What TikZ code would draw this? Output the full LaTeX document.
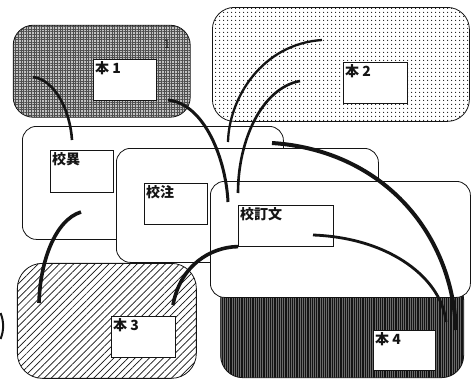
\documentclass[tikz,border=0pt]{standalone}
\usepackage{fontspec}
\usepackage{tikz}
\usetikzlibrary{patterns.meta}
\newfontfamily\jpfont{Noto Sans CJK JP}
\definecolor{InkBlack}{HTML}{141414}
\definecolor{ScreenGray}{HTML}{C2C2C2}
\definecolor{StripeGray}{HTML}{6A6A6A}
\tikzset{
  grpBox/.style={rectangle,draw=InkBlack,thick,anchor=north west,inner sep=0pt,rounded corners=16pt},
  grpPlain/.style={grpBox,fill=white},
  grpGrid/.style={grpBox,preaction={fill=ScreenGray},
    pattern={Hatch[angle=0,distance=2.6pt,line width=.45pt]},pattern color=InkBlack!75},
  grpDots/.style={grpBox,preaction={fill=white},
    pattern={Dots[distance=4pt,radius=.75pt]},pattern color=InkBlack},
  grpHatch/.style={grpBox,preaction={fill=white},
    pattern={Lines[angle=45,distance=5pt,line width=.7pt]},pattern color=InkBlack},
  grpStripe/.style={grpBox,preaction={fill=StripeGray},
    pattern={Lines[angle=90,distance=2.2pt,line width=1.3pt]},pattern color=InkBlack},
  bookBox/.style={rectangle,draw=InkBlack,semithick,fill=white,anchor=north west,inner sep=0pt},
  bookLabel/.style={anchor=north west,font=\jpfont\bfseries\fontsize{14}{14}\selectfont,
    text=InkBlack,inner sep=2pt},
  tickLabel/.style={font=\sffamily\fontsize{13}{13}\selectfont,text=InkBlack,inner sep=0pt},
  readLink/.style={draw=InkBlack,line width=2.6pt},
  heavyLink/.style={readLink,line width=4pt}
}
\begin{document}
\begin{tikzpicture}[x=1pt,y=-1pt]
  \useasboundingbox (0,0) rectangle (472,380);
  % source texts, top row
  \node[grpGrid,minimum width=177pt,minimum height=92pt,rounded corners=20pt] (g1) at (13,25) {};
  \node[bookBox,minimum width=63pt,minimum height=41pt] (b1) at (93,59) {};
  \node[bookLabel] (b1t) at (b1.north west) {本 1};
  \node[tickLabel] (g1t) at (167,44) {1};
  \node[grpDots,minimum width=257pt,minimum height=114pt,rounded corners=22pt] (g2) at (212,7) {};
  \node[bookBox,minimum width=64pt,minimum height=41pt] (b2) at (343,62) {};
  \node[bookLabel] (b2t) at (b2.north west) {本 2};
  % stacked editions
  \node[grpPlain,minimum width=261pt,minimum height=113pt,rounded corners=14pt] (gA) at (22,126) {};
  \node[bookBox,minimum width=63pt,minimum height=42pt] (bA) at (50,150) {};
  \node[bookLabel] (bAt) at (bA.north west) {校異};
  \node[grpPlain,minimum width=262pt,minimum height=114pt,rounded corners=14pt] (gB) at (116,148) {};
  \node[bookBox,minimum width=63pt,minimum height=41pt] (bB) at (144,183) {};
  \node[bookLabel] (bBt) at (bB.north west) {校注};
  % source texts, bottom row
  \node[grpHatch,minimum width=179pt,minimum height=115pt,rounded corners=25pt] (g3) at (17,263) {};
  \node[bookBox,minimum width=64pt,minimum height=41pt] (b3) at (111,316) {};
  \node[bookLabel] (b3t) at (b3.north west) {本 3};
  \node[grpStripe,minimum width=243pt,minimum height=100pt,rounded corners=22pt] (g4) at (220,277) {};
  \node[bookBox,minimum width=62pt,minimum height=40pt] (b4) at (373,330) {};
  \node[bookLabel] (b4t) at (b4.north west) {本 4};
  \node[grpPlain,minimum width=260pt,minimum height=116pt,rounded corners=14pt] (gC) at (210,181) {};
  \node[bookBox,minimum width=95pt,minimum height=41pt] (bC) at (238,205) {};
  \node[bookLabel] (bCt) at (bC.north west) {校訂文};
  \draw[InkBlack,line width=2pt] (0.5,313) .. controls (4,321) and (4,331) .. (0.5,339);
  % curve ends
  \coordinate (p1) at (33,77);
  \coordinate (q1) at (72,140);
  \coordinate (p2) at (168,100);
  \coordinate (q2) at (228,202);
  \coordinate (p3) at (322,40);
  \coordinate (q3) at (228,142);
  \coordinate (p4) at (300,81);
  \coordinate (q4) at (238,193);
  \coordinate (p5) at (272,143);
  \coordinate (q5) at (456,330);
  \coordinate (p6) at (313,235);
  \coordinate (q6) at (446,322);
  \coordinate (p7) at (81,212);
  \coordinate (q7) at (39,303);
  \coordinate (p8) at (173,305);
  \coordinate (q8) at (bC.south west);
  \draw[readLink] (p1) .. controls (55,80) and (70,110) .. (q1);
  \draw[readLink,line width=3pt] (p2) .. controls (205,104) and (226,160) .. (q2);
  \draw[readLink,line width=2.3pt] (p3) .. controls (262,44) and (229,98) .. (q3);
  \draw[readLink,line width=2.6pt] (p4) .. controls (262,88) and (238,140) .. (q4);
  \draw[heavyLink] (p5) .. controls (380,150) and (452,230) .. (q5);
  \draw[readLink,line width=2.8pt] (p6) .. controls (392,238) and (442,280) .. (q6);
  \draw[heavyLink,line width=3.6pt] (p7) .. controls (55,220) and (40,262) .. (q7);
  \draw[heavyLink,line width=3.6pt] (p8) .. controls (180,266) and (210,247) .. (q8);
\end{tikzpicture}
\end{document}
